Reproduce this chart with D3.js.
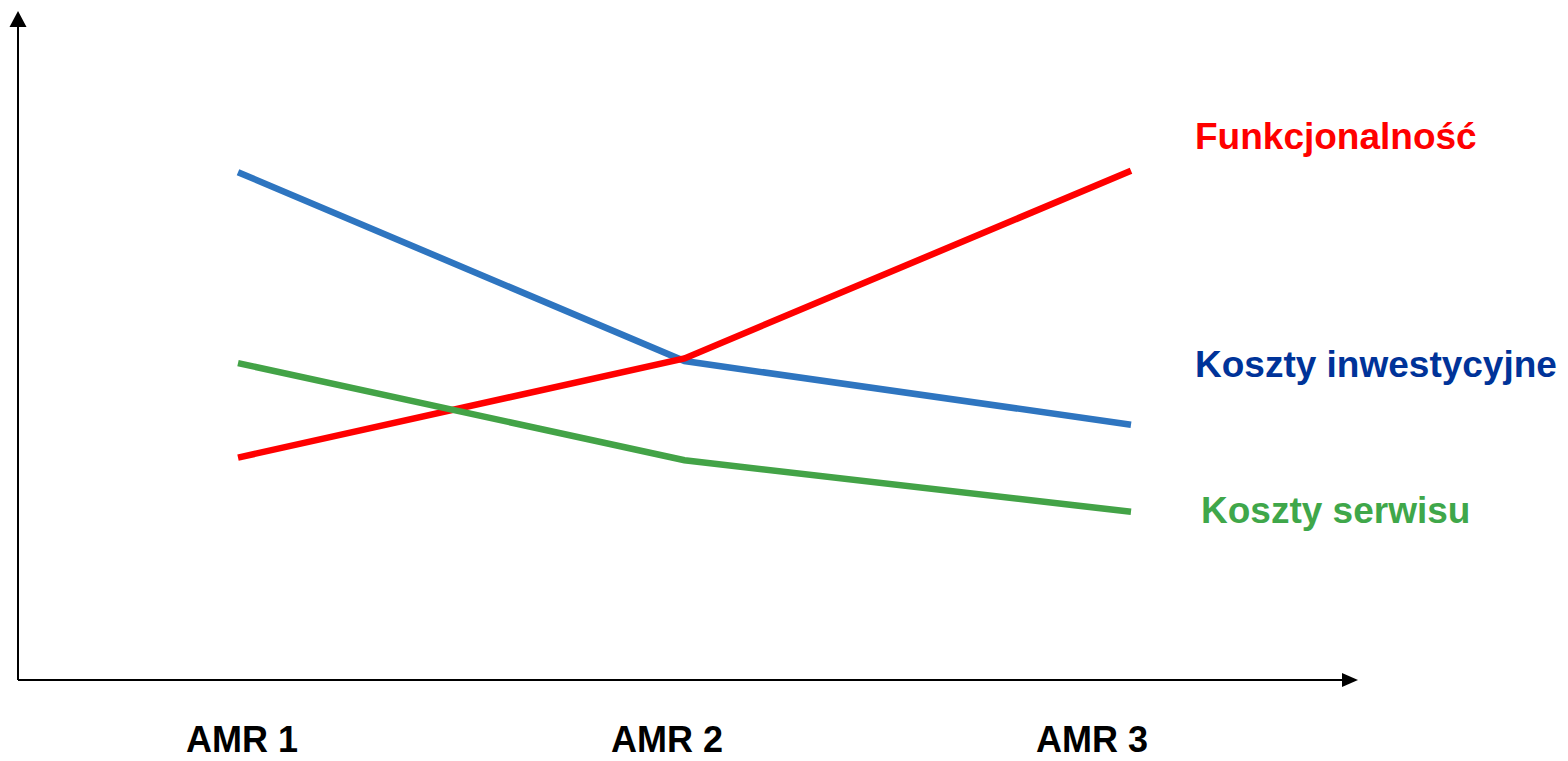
<!DOCTYPE html>
<html>
<head>
<meta charset="utf-8">
<script src="https://cdn.jsdelivr.net/npm/d3@7"></script>
<style>
  html, body { margin: 0; padding: 0; background: #fff; }
  svg { display: block; }
  text { font-family: "Liberation Sans", Arial, sans-serif; font-weight: bold; }
</style>
</head>
<body>
<svg id="chart" width="1568" height="761"></svg>
<script>
const categories = ["AMR 1", "AMR 2", "AMR 3"];
const seriesNames = ["Koszty inwestycyjne", "Funkcjonalność", "Koszty serwisu"];
const inwestycyjne = [75.8, 47.6, 38.1];
const funkcjonalnosc = [33.2, 48.0, 76.0];
const serwisu = [47.3, 32.8, 25.1];

const series = [
  { name: seriesNames[0], values: inwestycyjne, line: "#2E75C0", text: "#003399", labelY: 45.2, dx: 0 },
  { name: seriesNames[1], values: funkcjonalnosc, line: "#FF0000", text: "#FF0000", labelY: 79.3, dx: 0 },
  { name: seriesNames[2], values: serwisu, line: "#43A347", text: "#3FA74A", labelY: 23.5, dx: 6 }
];

const svg = d3.select("#chart");
const origin = { x: 18, y: 680 };

const x = d3.scalePoint().domain(categories).range([238, 1131]);
const xLabel = d3.scalePoint().domain(categories).range([242, 1092]);
const y = d3.scaleLinear().domain([0, 100]).range([origin.y, 10]);

// axes
svg.append("line").attr("x1", origin.x).attr("y1", origin.y).attr("x2", origin.x).attr("y2", 26)
  .attr("stroke", "#000").attr("stroke-width", 2);
svg.append("path").attr("d", `M${origin.x},11 L${origin.x - 8.5},27 L${origin.x + 8.5},27 Z`).attr("fill", "#000");
svg.append("line").attr("x1", origin.x).attr("y1", origin.y).attr("x2", 1343).attr("y2", origin.y)
  .attr("stroke", "#000").attr("stroke-width", 2);
svg.append("path").attr("d", `M1358,${origin.y} L1342,${origin.y - 7} L1342,${origin.y + 7} Z`).attr("fill", "#000");

// category labels
svg.selectAll("text.cat").data(categories).enter().append("text")
  .attr("class", "cat")
  .attr("x", d => xLabel(d)).attr("y", 752)
  .attr("text-anchor", "middle")
  .attr("font-size", 36).attr("fill", "#000")
  .text(d => d);

// lines
const lineGen = d3.line().x((d, i) => x(categories[i])).y(d => y(d));
series.forEach(s => {
  svg.append("path").datum(s.values)
    .attr("d", lineGen)
    .attr("fill", "none")
    .attr("stroke", s.line)
    .attr("stroke-width", 6.5)
    .attr("stroke-linejoin", "miter");
});

// series labels
series.forEach(s => {
  svg.append("text")
    .attr("x", 1195 + s.dx).attr("y", y(s.labelY))
    .attr("font-size", 37).attr("fill", s.text)
    .text(s.name);
});
</script>
</body>
</html>
